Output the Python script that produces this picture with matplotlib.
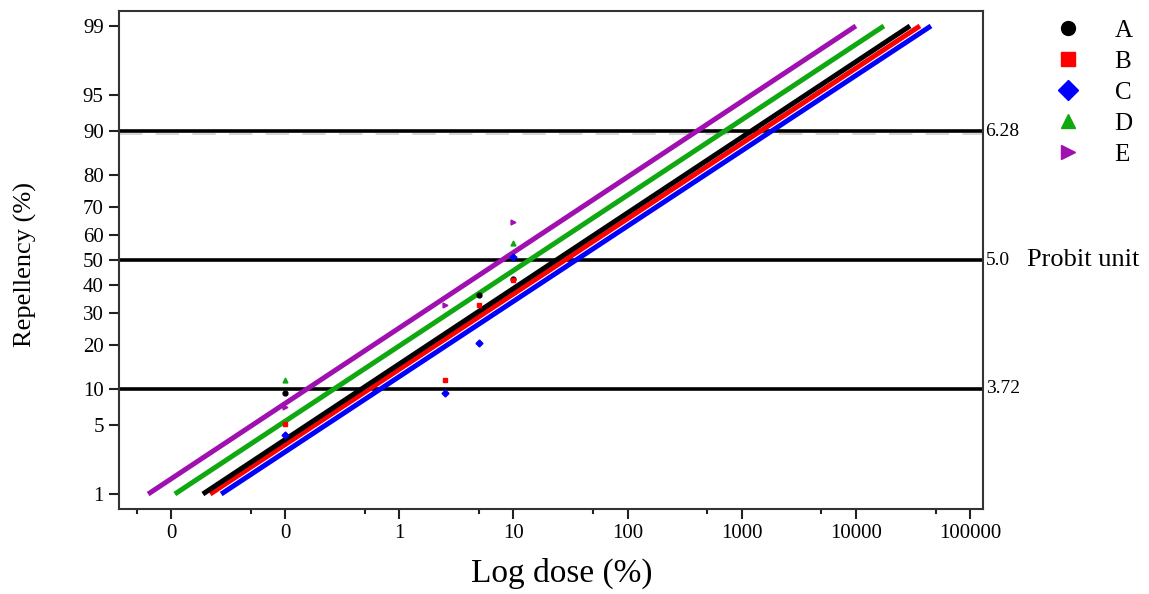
import numpy as np
import matplotlib
matplotlib.use("Agg")
import matplotlib.pyplot as plt
from matplotlib.lines import Line2D
from matplotlib.ticker import FixedLocator, FixedFormatter, NullLocator
import matplotlib.transforms as mtransforms
from statistics import NormalDist

plt.rcParams["font.family"] = ["Liberation Serif", "DejaVu Serif"]

# ---- data -------------------------------------------------------------
series = ["A", "B", "C", "D", "E"]
colors = ["#000000", "#ff0000", "#0000ff", "#10a810", "#a010b0"]
markers = ["o", "s", "D", "^", ">"]

# fitted probit lines: dose (%) at 1 % and at 99 % repellency
fit_dose_lo = [0.019, 0.022, 0.0275, 0.0108, 0.0063]
fit_dose_hi = [29800, 36400, 45500, 17600, 10000]
fit_pct = [1, 99]

# observed repellency (%) per dose
obs_dose = {
    "A": [0.1, 5, 10],
    "B": [0.1, 2.5, 5, 10],
    "C": [0.1, 2.5, 5, 10],
    "D": [0.1, 10],
    "E": [0.1, 2.5, 10],
}
obs_pct = {
    "A": [9.3, 36.4, 42.5],
    "B": [5.2, 11.6, 32.7, 42.0],
    "C": [4.1, 9.3, 20.5, 51.2],
    "D": [11.6, 56.7],
    "E": [7.2, 32.7, 64.7],
}

# reference probit levels
ref_pct = [10, 50, 90]
ref_labels = ["3.72", "5.0", "6.28"]

xticks = [0.01, 0.1, 1, 10, 100, 1000, 10000, 100000]
xticklabels = ["0", "0", "1", "10", "100", "1000", "10000", "100000"]
xminor = [0.005, 0.05, 0.5, 5, 50, 500, 5000, 50000]
yticks = [1, 5, 10, 20, 30, 40, 50, 60, 70, 80, 90, 95, 99]

# ---- probit scale -----------------------------------------------------
_nd = NormalDist()
_ppf = np.vectorize(lambda p: _nd.inv_cdf(min(max(p / 100.0, 1e-12), 1 - 1e-12)),
                    otypes=[float])
_cdf = np.vectorize(lambda z: 100.0 * _nd.cdf(z), otypes=[float])


def probit_fwd(p):
    return _ppf(np.asarray(p, dtype=float))


def probit_inv(z):
    return _cdf(np.asarray(z, dtype=float))


# ---- figure -----------------------------------------------------------
W, H = 1149, 594
fig = plt.figure(figsize=(W / 100, H / 100), dpi=100)
ax = fig.add_axes([119 / W, 1 - 509 / H, 864 / W, 498 / H])

ax.set_xscale("log")
ax.set_yscale("function", functions=(probit_fwd, probit_inv))
ax.set_xlim(0.0035, 130000)
ax.set_ylim(0.666, 99.334)

# reference lines
off = mtransforms.offset_copy(ax.transData, fig=fig, x=0, y=-2.5, units="dots")
ax.plot([0.0035, 130000], [90, 90], color="#cfcfcf", lw=1.2,
        dashes=(14, 8), transform=off, zorder=1)
for p in ref_pct:
    ax.axhline(p, color="black", lw=2.6, zorder=2)

# fitted lines
for i, s in enumerate(series):
    ax.plot([fit_dose_lo[i], fit_dose_hi[i]], fit_pct, color=colors[i],
            lw=3.6, solid_capstyle="butt", zorder=3 + (4 - i) * 0.1)

# observed points
for i, s in enumerate(series):
    ax.plot(obs_dose[s], obs_pct[s], linestyle="none", marker=markers[i],
            color=colors[i], markersize=3.5, zorder=5)

# axes styling
ax.xaxis.set_major_locator(FixedLocator(xticks))
ax.xaxis.set_major_formatter(FixedFormatter(xticklabels))
ax.xaxis.set_minor_locator(FixedLocator(xminor))
ax.xaxis.set_minor_formatter(FixedFormatter([""] * len(xminor)))
ax.yaxis.set_major_locator(FixedLocator(yticks))
ax.yaxis.set_major_formatter(FixedFormatter([str(v) for v in yticks]))
ax.yaxis.set_minor_locator(NullLocator())

ax.tick_params(which="major", direction="out", length=7, width=1.5,
               labelsize=15, pad=4, color="#222222")
ax.tick_params(which="minor", direction="out", length=3.5, width=1.5,
               color="#222222")
ax.tick_params(axis="x", which="both", top=False)
ax.tick_params(axis="y", which="both", right=False)
for sp in ax.spines.values():
    sp.set_linewidth(1.5)
    sp.set_color("#333333")

ax.set_ylabel("Repellency (%)", fontsize=19)
ax.yaxis.set_label_coords(-0.095, 0.49)
ax.set_xlabel("Log dose (%)", fontsize=24)
ax.xaxis.set_label_coords(0.513, -0.098)

# probit unit labels on the right
blend = mtransforms.blended_transform_factory(ax.transAxes, ax.transData)
for p, lab in zip(ref_pct, ref_labels):
    ax.text(1.003, p, lab, transform=blend, fontsize=14,
            ha="left", va="center")
ax.text(1.051, 50, "Probit unit", transform=blend, fontsize=19,
        ha="left", va="center")

# legend
handles = [Line2D([], [], linestyle="none", marker=m, color=c, markersize=10)
           for m, c in zip(markers, colors)]
fig.legend(handles, series, loc="upper left",
           bbox_to_anchor=(1038 / W, 1 - 2 / H), frameon=False,
           fontsize=18, handlelength=1.0, handletextpad=1.36,
           labelspacing=0.34, borderpad=0.2)

fig.savefig("out.png", dpi=100)
